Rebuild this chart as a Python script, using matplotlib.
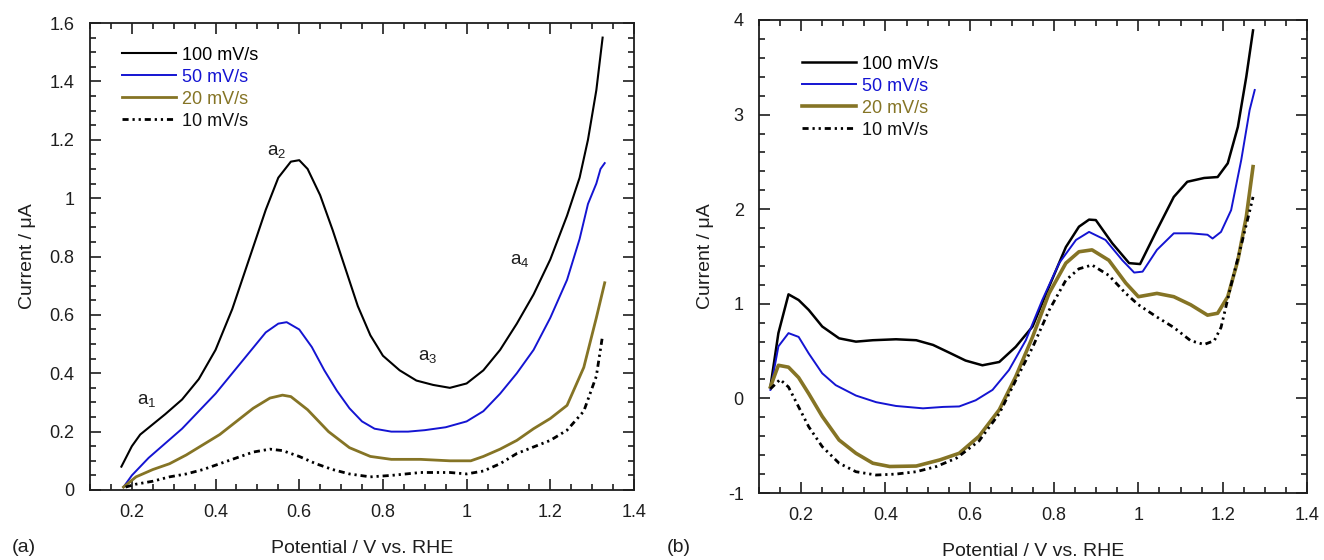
import matplotlib
matplotlib.use("Agg")
import matplotlib.pyplot as plt
from matplotlib.ticker import MultipleLocator, FuncFormatter

plt.rcParams['font.family'] = ['Liberation Sans', 'DejaVu Sans']
plt.rcParams['mathtext.fontset'] = 'custom'
plt.rcParams['mathtext.rm'] = 'Liberation Sans'

labels = ['100 mV/s', '50 mV/s', '20 mV/s', '10 mV/s']
colors = ['#000000', '#1414d2', '#857425', '#000000']

# ---------------- Panel (a) ----------------
a_x100 = [0.175, 0.20, 0.22, 0.25, 0.28, 0.32, 0.36, 0.40, 0.44, 0.48, 0.52, 0.55, 0.58, 0.60,
          0.62, 0.65, 0.68, 0.71, 0.74, 0.77, 0.80, 0.84, 0.88, 0.92, 0.96, 1.00, 1.04, 1.08,
          1.12, 1.16, 1.20, 1.24, 1.27, 1.29, 1.31, 1.325]
a_y100 = [0.08, 0.15, 0.19, 0.225, 0.26, 0.31, 0.38, 0.48, 0.62, 0.79, 0.96, 1.07, 1.125, 1.13,
          1.10, 1.01, 0.89, 0.76, 0.63, 0.53, 0.46, 0.41, 0.375, 0.36, 0.35, 0.365, 0.41, 0.48,
          0.57, 0.67, 0.79, 0.94, 1.07, 1.20, 1.37, 1.55]

a_x50 = [0.18, 0.20, 0.24, 0.28, 0.32, 0.36, 0.40, 0.44, 0.48, 0.52, 0.55, 0.57, 0.60, 0.63,
         0.66, 0.69, 0.72, 0.75, 0.78, 0.82, 0.86, 0.90, 0.95, 1.00, 1.04, 1.08, 1.12, 1.16,
         1.20, 1.24, 1.27, 1.29, 1.31, 1.32, 1.33]
a_y50 = [0.01, 0.05, 0.11, 0.16, 0.21, 0.27, 0.33, 0.40, 0.47, 0.54, 0.57, 0.575, 0.55, 0.49,
         0.41, 0.34, 0.28, 0.235, 0.21, 0.20, 0.20, 0.205, 0.215, 0.235, 0.27, 0.33, 0.40, 0.48,
         0.59, 0.72, 0.86, 0.98, 1.05, 1.10, 1.12]

a_x20 = [0.18, 0.21, 0.25, 0.29, 0.33, 0.37, 0.41, 0.45, 0.49, 0.53, 0.56, 0.58, 0.62, 0.67,
         0.72, 0.77, 0.82, 0.89, 0.96, 1.01, 1.04, 1.08, 1.12, 1.16, 1.20, 1.24, 1.28, 1.31, 1.33]
a_y20 = [0.01, 0.045, 0.07, 0.09, 0.12, 0.155, 0.19, 0.235, 0.28, 0.315, 0.325, 0.32, 0.275, 0.20,
         0.145, 0.115, 0.105, 0.105, 0.10, 0.10, 0.115, 0.14, 0.17, 0.21, 0.245, 0.29, 0.42, 0.59, 0.71]

a_x10 = [0.185, 0.21, 0.25, 0.29, 0.33, 0.37, 0.41, 0.45, 0.49, 0.53, 0.56, 0.60, 0.64, 0.68,
         0.72, 0.77, 0.82, 0.89, 0.96, 1.00, 1.04, 1.08, 1.12, 1.20, 1.24, 1.28, 1.31, 1.325]
a_y10 = [0.01, 0.02, 0.03, 0.045, 0.055, 0.07, 0.09, 0.11, 0.13, 0.14, 0.135, 0.115, 0.09, 0.07,
         0.055, 0.045, 0.05, 0.06, 0.06, 0.055, 0.065, 0.09, 0.125, 0.17, 0.205, 0.27, 0.39, 0.53]

# ---------------- Panel (b) ----------------
b_x100 = [0.127, 0.146, 0.17, 0.194, 0.218, 0.25, 0.29, 0.33, 0.37, 0.425, 0.473, 0.513, 0.553,
          0.59, 0.63, 0.67, 0.709, 0.749, 0.788, 0.828, 0.859, 0.883, 0.899, 0.938, 0.978, 1.004,
          1.044, 1.084, 1.116, 1.156, 1.188, 1.212, 1.236, 1.256, 1.272]
b_y100 = [0.12, 0.69, 1.10, 1.04, 0.935, 0.76, 0.635, 0.60, 0.615, 0.625, 0.615, 0.565, 0.48,
          0.40, 0.35, 0.385, 0.545, 0.76, 1.18, 1.60, 1.815, 1.89, 1.885, 1.64, 1.43, 1.42,
          1.78, 2.13, 2.29, 2.33, 2.34, 2.485, 2.87, 3.40, 3.89]

b_x50 = [0.127, 0.146, 0.17, 0.194, 0.218, 0.25, 0.282, 0.33, 0.378, 0.425, 0.489, 0.537, 0.575,
         0.614, 0.654, 0.693, 0.733, 0.772, 0.812, 0.852, 0.883, 0.922, 0.962, 0.99, 1.01,
         1.044, 1.084, 1.124, 1.164, 1.176, 1.196, 1.22, 1.244, 1.264, 1.276]
b_y50 = [0.09, 0.55, 0.69, 0.65, 0.475, 0.265, 0.14, 0.03, -0.04, -0.08, -0.105, -0.09, -0.085,
         -0.02, 0.09, 0.30, 0.615, 1.04, 1.43, 1.675, 1.76, 1.675, 1.46, 1.33, 1.34,
         1.57, 1.745, 1.745, 1.73, 1.69, 1.76, 1.99, 2.52, 3.05, 3.26]

b_x20 = [0.127, 0.146, 0.17, 0.194, 0.218, 0.25, 0.29, 0.33, 0.37, 0.41, 0.473, 0.529, 0.575,
         0.622, 0.67, 0.709, 0.749, 0.788, 0.828, 0.859, 0.89, 0.93, 0.97, 1.0, 1.044, 1.084,
         1.124, 1.164, 1.188, 1.212, 1.236, 1.256, 1.272]
b_y20 = [0.12, 0.35, 0.33, 0.22, 0.05, -0.19, -0.44, -0.58, -0.685, -0.72, -0.715, -0.65, -0.58,
         -0.40, -0.12, 0.23, 0.65, 1.11, 1.43, 1.55, 1.57, 1.46, 1.22, 1.075, 1.11, 1.075,
         0.99, 0.88, 0.90, 1.075, 1.46, 1.92, 2.45]

b_x10 = [0.127, 0.15, 0.17, 0.194, 0.218, 0.25, 0.29, 0.33, 0.378, 0.425, 0.473, 0.521, 0.569,
         0.622, 0.67, 0.709, 0.749, 0.788, 0.828, 0.859, 0.89, 0.93, 0.97, 1.0, 1.044, 1.084,
         1.124, 1.156, 1.18, 1.196, 1.22, 1.244, 1.264, 1.272]
b_y10 = [0.10, 0.20, 0.12, -0.09, -0.30, -0.51, -0.685, -0.775, -0.81, -0.80, -0.775, -0.72, -0.63,
         -0.45, -0.16, 0.19, 0.54, 0.93, 1.25, 1.37, 1.41, 1.30, 1.11, 0.99, 0.86, 0.75,
         0.61, 0.57, 0.61, 0.75, 1.20, 1.62, 1.98, 2.13]

peak_labels = ['1', '2', '3', '4']
peak_x = [0.236, 0.546, 0.908, 1.127]
peak_y = [0.308, 1.159, 0.457, 0.788]

fig = plt.figure(figsize=(13.24, 5.6), dpi=100)
axA = fig.add_axes([90/1324, 1-490/560, 544/1324, 467/560])
axB = fig.add_axes([759/1324, 1-493/560, 548/1324, 473/560])

dots = (0, (2.2, 1.4, 0.8, 1.4, 0.8, 1.4))
ink = '#1e1e1e'

def style(ax, ylim, ymaj, ymin):
    ax.set_xlim(0.1, 1.4)
    ax.set_ylim(*ylim)
    ax.xaxis.set_major_locator(MultipleLocator(0.2))
    ax.xaxis.set_minor_locator(MultipleLocator(0.05))
    ax.yaxis.set_major_locator(MultipleLocator(ymaj))
    ax.yaxis.set_minor_locator(MultipleLocator(ymin))
    fmt = FuncFormatter(lambda v, p: ('%g' % round(v, 3)))
    ax.xaxis.set_major_formatter(fmt)
    ax.yaxis.set_major_formatter(fmt)
    ax.tick_params(which='both', direction='in', top=True, right=True, labelsize=13,
                   width=1.2, colors=ink, labelcolor=ink)
    ax.tick_params(which='major', length=8)
    ax.tick_params(axis='x', which='major', pad=10)
    ax.tick_params(axis='y', which='major', pad=11)
    ax.tick_params(which='minor', length=4.5)
    for s in ax.spines.values():
        s.set_linewidth(1.3)
        s.set_color(ink)
    ax.set_xlabel('Potential / V vs. RHE', fontsize=14, color=ink, labelpad=14)
    ax.set_ylabel('Current / \u03bcA', fontsize=14, color=ink, labelpad=10)

# panel a
la = []
la += axA.plot(a_x100, a_y100, color=colors[0], lw=1.5, label=labels[0])
la += axA.plot(a_x50, a_y50, color=colors[1], lw=1.4, label=labels[1])
la += axA.plot(a_x20, a_y20, color=colors[2], lw=2.0, label=labels[2])
la += axA.plot(a_x10, a_y10, color=colors[3], lw=2.0, linestyle=dots, label=labels[3])
style(axA, (0, 1.6), 0.2, 0.05)
for t, px, py in zip(peak_labels, peak_x, peak_y):
    axA.text(px, py, r'$\mathregular{a_%s}$' % t, fontsize=13.5, ha='center', va='center', color=ink)
axA.legend(handles=la, loc='upper left', bbox_to_anchor=(0.045, 0.965), frameon=False,
           fontsize=13, handlelength=3.0, handletextpad=0.35, labelspacing=0.28,
           labelcolor=colors[:3] + ['#111111'], borderaxespad=0)

# panel b
lb = []
lb += axB.plot(b_x100, b_y100, color=colors[0], lw=1.8, label=labels[0])
lb += axB.plot(b_x50, b_y50, color=colors[1], lw=1.4, label=labels[1])
lb += axB.plot(b_x20, b_y20, color=colors[2], lw=2.6, label=labels[2])
lb += axB.plot(b_x10, b_y10, color=colors[3], lw=2.0, linestyle=dots, label=labels[3])
style(axB, (-1, 4), 1, 0.2)
axB.legend(handles=lb, loc='upper left', bbox_to_anchor=(0.065, 0.94), frameon=False,
           fontsize=13, handlelength=3.0, handletextpad=0.35, labelspacing=0.28,
           labelcolor=colors[:3] + ['#111111'], borderaxespad=0)

fig.text(12/1324, 1-548/560, '(a)', fontsize=14, va='center', ha='left', color=ink)
fig.text(667/1324, 1-548/560, '(b)', fontsize=14, va='center', ha='left', color=ink)

fig.savefig('out.png', dpi=100, facecolor='white')
